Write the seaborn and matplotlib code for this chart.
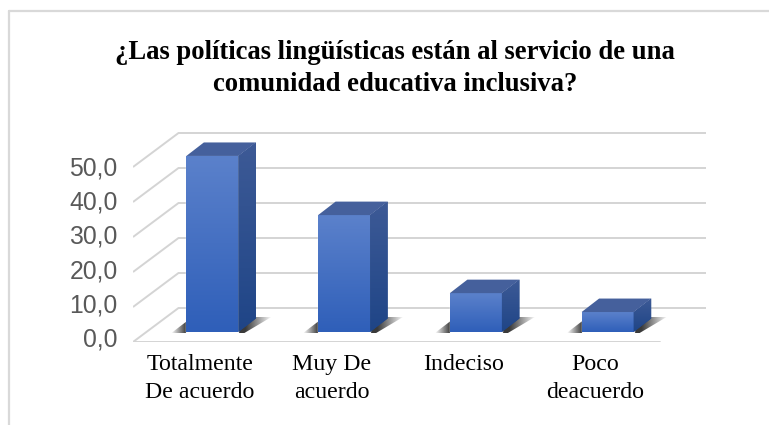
#!/usr/bin/env python3
"""Fake-3D column chart: politicas linguisticas survey."""
import numpy as np
import pandas as pd
import matplotlib
matplotlib.use("Agg")
import matplotlib.pyplot as plt
from matplotlib.colors import to_rgb
from matplotlib.lines import Line2D
from matplotlib.patches import Polygon
from matplotlib.transforms import Affine2D
import seaborn as sns

# data
categories = ["Totalmente\nDe acuerdo", "Muy De\nacuerdo", "Indeciso", "Poco\ndeacuerdo"]
values = [50.3, 33.4, 11.1, 5.7]
y_ticks = [0, 10, 20, 30, 40, 50]
y_tick_labels = ["0,0", "10,0", "20,0", "30,0", "40,0", "50,0"]
title = "¿Las políticas lingüísticas están al servicio de una\ncomunidad educativa inclusiva?"

W, H = 769, 425
sns.set_theme(style="white")
plt.rcParams["font.family"] = ["Liberation Serif", "DejaVu Serif"]

fig = plt.figure(figsize=(W / 100, H / 100), dpi=100, facecolor="white")
# axes box in pixels: floor front edge 133..660, value 0 at y=342, 3.5 px per unit
left, bottom_y, top_y, cat_w = 133, 342, 120, 131.75
right = 712
ax = fig.add_axes([left / W, 1 - bottom_y / H, (right - left) / W, (bottom_y - top_y) / H])

df = pd.DataFrame({"cat": categories, "val": values})
sns.barplot(data=df, x="cat", y="val", width=0.395, color="#3563b8", saturation=1, ax=ax, zorder=5)
ax.set_xlim(-0.5, -0.5 + (right - left) / cat_w)
ax.set_ylim(0, (bottom_y - top_y) / 3.5)
ax.set_xlabel("")
ax.set_ylabel("")
sns.despine(ax=ax, left=True, bottom=True, top=True, right=True)

ax.set_yticks(y_ticks)
ax.set_yticklabels(y_tick_labels, family="Liberation Sans", fontsize=17.8, color="#595959")
ax.tick_params(axis="y", length=0, pad=11)
ax.tick_params(axis="x", length=0, pad=8.5)
ax.set_xticks(range(len(categories)))
ax.set_xticklabels(categories, fontsize=17.2, color="black", linespacing=1.48)

# value labels sit a little above their gridlines, more so near the floor
for lab, v in zip(ax.get_yticklabels(), y_ticks):
    lab.set_transform(lab.get_transform() + Affine2D().translate(0, 1 + 4 * (1 - v / 50)))
for lab in ax.get_xticklabels():
    lab.set_transform(lab.get_transform() + Affine2D().translate(1, 0))

to_data = ax.transData.inverted()


def px(points):
    # display pixels to data coordinates
    return to_data.transform(points)


def disp(x, y):
    return ax.transData.transform((x, y))


# back wall and floor
BACK_X, BACK_Y = 45.5, 34
GRID = "#d4d4d4"
for v in y_ticks:
    x0, y0 = disp(-0.5, v)
    a = px([(x0, y0), (x0 + BACK_X, y0 + BACK_Y), (x0 + 573, y0 + BACK_Y)])
    ax.plot(a[:, 0], a[:, 1], color=GRID, lw=1.4, zorder=1, solid_capstyle="butt")
x0, y0 = disp(-0.5, 0)
a = px([(x0, y0), (x0 + 527, y0)])
ax.plot(a[:, 0], a[:, 1], color=GRID, lw=1.4, zorder=1)


def gradient_face(points, top_col, bot_col, zorder):
    # polygon filled with a vertical gradient
    pts = px(points)
    poly = Polygon(pts, closed=True, facecolor=bot_col, edgecolor="none", zorder=zorder)
    ax.add_patch(poly)
    c = np.linspace(to_rgb(top_col), to_rgb(bot_col), 64)[:, None, :]
    im = ax.imshow(c, extent=(pts[:, 0].min(), pts[:, 0].max(), pts[:, 1].min(), pts[:, 1].max()),
                   aspect="auto", origin="upper", zorder=zorder, interpolation="bilinear")
    im.set_clip_path(poly)


# bars stand 10 px up and 13 px right of the front plane
SHIFT_X, SHIFT_Y = 13.5, 10
DEPTH_X, DEPTH_Y = 17.5, 13.5
xlim, ylim = ax.get_xlim(), ax.get_ylim()
for bar in list(ax.patches):
    bar.set_transform(ax.transData + Affine2D().translate(SHIFT_X, SHIFT_Y))
    bx = bar.get_x()
    bw = bar.get_width()
    bh = bar.get_height()
    x1, y1 = disp(bx, 0)
    x2, y2 = disp(bx + bw, bh)
    x1, x2 = x1 + SHIFT_X, x2 + SHIFT_X
    y1, y2 = y1 + SHIFT_Y, y2 + SHIFT_Y

    # soft floor shadow, darkest next to the bar
    shadow_pts = [(x1 - 15, y1 - 1), (x2 + 6, y1 - 1), (x2 + 33, y1 + 15), (x1 + 6, y1 + 15)]
    pts = px(shadow_pts)
    poly = Polygon(pts, closed=True, facecolor="none", edgecolor="none", zorder=2)
    ax.add_patch(poly)
    n = 200
    xs = np.linspace(x1 - 15, x2 + 33, n)
    alpha = np.clip(np.minimum((xs - (x1 - 15)) / 15, ((x2 + 33) - xs) / 26), 0, 1) * 0.92
    rgba = np.zeros((1, n, 4))
    rgba[0, :, :3] = 0.16
    rgba[0, :, 3] = alpha
    im = ax.imshow(rgba, extent=(pts[:, 0].min(), pts[:, 0].max(), pts[:, 1].min(), pts[:, 1].max()),
                   aspect="auto", zorder=2, interpolation="bilinear")
    im.set_clip_path(poly)

    # front, side and top faces
    gradient_face([(x1, y1), (x2, y1), (x2, y2), (x1, y2)], "#5b81cb", "#2f5fb9", 6)
    gradient_face([(x2, y1), (x2 + DEPTH_X, y1 + DEPTH_Y), (x2 + DEPTH_X, y2 + DEPTH_Y), (x2, y2)],
                  "#3d5a96", "#1f4587", 6)
    top = Polygon(px([(x1, y2), (x2, y2), (x2 + DEPTH_X, y2 + DEPTH_Y), (x1 + DEPTH_X, y2 + DEPTH_Y)]),
                  closed=True, facecolor="#45609c", edgecolor="none", zorder=6)
    ax.add_patch(top)

ax.set_xlim(xlim)
ax.set_ylim(ylim)
ax.patch.set_alpha(0)

fig.text(395 / W, 1 - 68.5 / H, title, ha="center", va="center", fontsize=19.2, fontweight="bold",
         color="black", linespacing=1.33)

# chart frame runs off the right and bottom of the picture
BORDER = "#d9d9d9"
fig.add_artist(Line2D([9 / W, 9 / W], [1 - 11 / H, 0], color=BORDER, lw=1.6))
fig.add_artist(Line2D([9 / W, 1], [1 - 11 / H, 1 - 11 / H], color=BORDER, lw=1.6))

fig.savefig("out.png", dpi=100)
